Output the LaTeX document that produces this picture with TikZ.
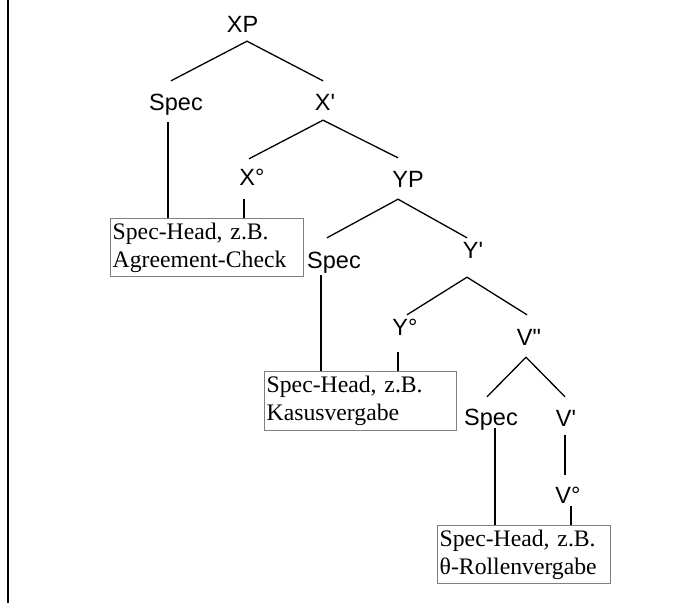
\documentclass[tikz,border=0pt]{standalone}
\usepackage{fontspec}
\newfontfamily\labsans{Liberation Sans}
\newfontfamily\boxserif{Liberation Serif}
\tikzset{
  lab/.style={font=\labsans\fontsize{23.5}{28}\selectfont, inner sep=0pt, text height=17pt, text depth=0pt, anchor=base},
  infobox/.style={draw=black!50, line width=1.4pt, font=\boxserif\fontsize{23.7}{28}\selectfont, align=left, inner xsep=2pt, inner ysep=0pt, anchor=north west},
  branch/.style={line width=1.3pt, black}
}
\begin{document}
\begin{tikzpicture}[x=1pt, y=-1pt]
\useasboundingbox (0,0) rectangle (694,603);
\draw[line width=2pt] (8,0) -- (8,603);
% labels
\node[lab] (xp) at (242.5,32) {XP};
\node[lab] (spec1) at (176,110) {Spec};
\node[lab] (x1) at (325,110) {X'};
\node[lab] (x0) at (252,185) {X°};
\node[lab] (yp) at (408,187) {YP};
\node[lab] (spec2) at (334,268) {Spec};
\node[lab] (y1) at (473,258) {Y'};
\node[lab] (y0) at (405,335) {Y°};
\node[lab] (v2) at (529,345) {V"};
\node[lab] (spec3) at (491,425) {Spec};
\node[lab] (v1) at (566,426) {V'};
\node[lab] (v0) at (568,503) {V°};
% boxes
\node[infobox, text width=189pt, minimum height=58pt] (box1) at (110,218) {Spec-Head, z.B.\\Agreement-Check};
\node[infobox, text width=188pt, minimum height=59pt] (box2) at (264,371) {Spec-Head, z.B.\\Kasusvergabe};
\node[infobox, text width=169pt, minimum height=58pt] (box3) at (437,525) {Spec-Head, z.B.\\θ-Rollenvergabe};
% branches
\draw[branch] ([shift={(-5,-12)}]spec1.north) -- ([shift={(4.5,9)}]xp.south) -- ([shift={(-2,-12)}]x1.north);
\draw[branch] ([shift={(-3,-9)}]x0.north) -- ([shift={(-2,10)}]x1.south) -- ([shift={(-10,-12)}]yp.north);
\draw[branch] ([shift={(-7,-13)}]spec2.north) -- ([shift={(-10,12)}]yp.south) -- ([shift={(-6,-3)}]y1.north);
\draw[branch] ([shift={(2,-3)}]y0.north) -- ([shift={(-6,19)}]y1.south) -- ([shift={(-2,-13)}]v2.north);
\draw[branch] ([shift={(-4,-11)}]spec3.north) -- ([shift={(-3,12)}]v2.south) -- ([shift={(-1,-12)}]v1.north);
\draw[branch] ([shift={(-1,9)}]v1.south) -- ([shift={(-3,-11)}]v0.north);
% vertical links to boxes
\coordinate (s1) at ([shift={(-8,12)}]spec1.south);
\coordinate (h1) at ([shift={(-8,14)}]x0.south);
\coordinate (s2) at ([shift={(-13,7)}]spec2.south);
\coordinate (h2) at ([shift={(-7,17)}]y0.south);
\coordinate (s3) at ([shift={(4,3)}]spec3.south);
\coordinate (h3) at ([shift={(3,3)}]v0.south);
\draw[branch] (s1) -- (s1 |- box1.north);
\draw[branch] (h1) -- (h1 |- box1.north);
\draw[branch] (s2) -- (s2 |- box2.north);
\draw[branch] (h2) -- (h2 |- box2.north);
\draw[branch] (s3) -- (s3 |- box3.north);
\draw[branch] (h3) -- (h3 |- box3.north);
\end{tikzpicture}
\end{document}
